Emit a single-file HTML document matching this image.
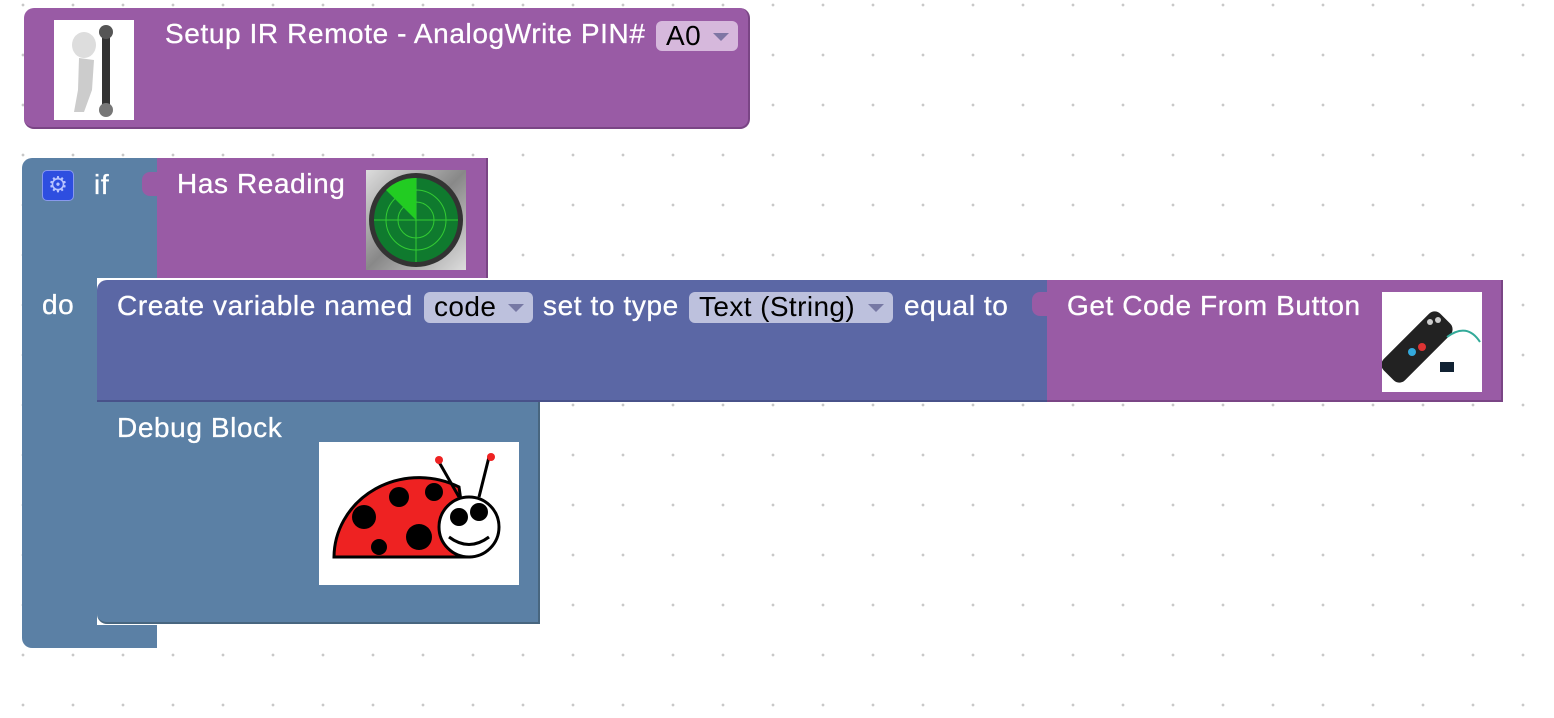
<!DOCTYPE html>
<html><head><meta charset="utf-8"><style>
html,body{margin:0;padding:0;}
body{width:1554px;height:718px;position:relative;overflow:hidden;background:#fff;font-family:"Liberation Sans",Arial,sans-serif;
background-image:radial-gradient(circle,#c8c8c8 1.2px,transparent 1.6px);background-size:50px 50px;background-position:-2px -20px;}
.a{position:absolute;box-sizing:border-box;}
.t{position:absolute;color:#fff;font-size:28px;letter-spacing:0.6px;-webkit-text-stroke:0.3px #fff;white-space:nowrap;line-height:30px;}
.dd{position:absolute;border-radius:6px;font-size:28px;letter-spacing:0.4px;line-height:30px;color:#000;padding-left:10px;box-sizing:border-box;}
.dd:after{content:"";position:absolute;right:9px;top:12px;border-left:8px solid transparent;border-right:8px solid transparent;border-top:8px solid rgba(90,90,140,0.7);}
</style></head><body>

<!-- Setup block -->
<div class="a" style="left:24px;top:8px;width:726px;height:121px;background:#995ba5;border-radius:10px;border-bottom:2px solid #7a4585;border-right:2px solid #7a4585;"></div>
<div class="a" style="left:54px;top:20px;width:80px;height:100px;background:#fff;">
<svg width="80" height="100"><ellipse cx="30" cy="25" rx="12" ry="13" fill="#ddd"/><path d="M25 38 L40 40 L38 70 L30 92 L20 92 L24 70 Z" fill="#ccc"/><rect x="48" y="12" width="8" height="78" fill="#333"/><circle cx="52" cy="12" r="7" fill="#555"/><circle cx="52" cy="90" r="7" fill="#777"/></svg></div>
<div class="t" style="left:165px;top:19px;">Setup IR Remote - AnalogWrite PIN#</div>
<div class="dd" style="left:656px;top:21px;width:82px;height:30px;background:#d6b8dc;">A0</div>

<!-- If block -->
<div class="a" style="left:22px;top:158px;width:135px;height:490px;background:#5b80a5;border-radius:10px 0 0 10px;"></div>
<div class="a" style="left:97px;top:278px;width:60px;height:347px;background:#fff;"></div>
<div class="a" style="left:42px;top:170px;width:32px;height:31px;background:#2e4ee0;border-radius:5px;border:1px solid #8899ee;color:#b8c4ff;font-size:22px;line-height:28px;text-align:center;">⚙</div>
<div class="t" style="left:94px;top:170px;">if</div>
<div class="t" style="left:42px;top:290px;">do</div>

<!-- Has Reading -->
<div class="a" style="left:157px;top:158px;width:331px;height:120px;background:#995ba5;border-right:2px solid #7a4585;"></div>
<div class="a" style="left:142px;top:172px;width:16px;height:24px;background:#995ba5;border-radius:8px 0 0 8px;"></div>
<div class="t" style="left:177px;top:169px;">Has Reading</div>
<div class="a" style="left:366px;top:170px;width:100px;height:100px;background:linear-gradient(135deg,#ddd,#888,#ddd);">
<svg width="100" height="100"><circle cx="50" cy="50" r="47" fill="#333"/><circle cx="50" cy="50" r="42" fill="#0f7a2e"/><circle cx="50" cy="50" r="30" fill="none" stroke="#3c3" stroke-width="1"/><circle cx="50" cy="50" r="18" fill="none" stroke="#3c3"/><line x1="8" y1="50" x2="92" y2="50" stroke="#3c3"/><line x1="50" y1="8" x2="50" y2="92" stroke="#3c3"/><path d="M50 50 L20 20 A42 42 0 0 1 50 8 Z" fill="#2c2"/></svg></div>

<!-- Create variable -->
<div class="a" style="left:97px;top:280px;width:951px;height:122px;background:#5b67a5;border-radius:10px 0 0 0;border-bottom:2px solid #48528a;"></div>
<div class="t" style="left:117px;top:291px;">Create variable named</div>
<div class="dd" style="left:424px;top:292px;width:109px;height:31px;background:#bdc1dd;">code</div>
<div class="t" style="left:543px;top:291px;">set to type</div>
<div class="dd" style="left:689px;top:292px;width:204px;height:31px;background:#bdc1dd;">Text (String)</div>
<div class="t" style="left:904px;top:291px;">equal to</div>

<!-- Get Code -->
<div class="a" style="left:1047px;top:280px;width:456px;height:122px;background:#995ba5;border-right:2px solid #7a4585;border-bottom:2px solid #7a4585;"></div>
<div class="a" style="left:1032px;top:292px;width:16px;height:24px;background:#995ba5;border-radius:8px 0 0 8px;"></div>
<div class="t" style="left:1067px;top:291px;">Get Code From Button</div>
<div class="a" style="left:1382px;top:292px;width:100px;height:100px;background:#fff;">
<svg width="100" height="100"><rect x="20" y="15" width="30" height="80" rx="8" fill="#222" transform="rotate(45 35 55)"/><circle cx="30" cy="60" r="4" fill="#3ad"/><circle cx="40" cy="55" r="4" fill="#d33"/><circle cx="48" cy="30" r="3" fill="#ccc"/><circle cx="56" cy="28" r="3" fill="#ccc"/><path d="M65 45 Q85 30 98 50" fill="none" stroke="#3a9" stroke-width="2"/><rect x="58" y="70" width="14" height="10" fill="#123"/></svg></div>

<!-- Debug -->
<div class="a" style="left:97px;top:402px;width:443px;height:222px;background:#5b80a5;border-right:2px solid #48667f;border-bottom:2px solid #48667f;border-radius:0 0 0 10px;"></div>
<div class="t" style="left:117px;top:413px;">Debug Block</div>
<div class="a" style="left:319px;top:442px;width:200px;height:143px;background:#fff;">
<svg width="200" height="143"><path d="M15 115 A85 80 0 0 1 140 45 L150 115 Z" fill="#e22" stroke="#000" stroke-width="3"/><circle cx="45" cy="75" r="12"/><circle cx="80" cy="55" r="10"/><circle cx="100" cy="95" r="13"/><circle cx="60" cy="105" r="8"/><circle cx="115" cy="50" r="9"/><circle cx="150" cy="85" r="30" fill="#fff" stroke="#000" stroke-width="3"/><circle cx="140" cy="75" r="9"/><circle cx="160" cy="70" r="9"/><path d="M130 95 Q150 110 170 95" fill="none" stroke="#000" stroke-width="3"/><line x1="140" y1="55" x2="120" y2="20" stroke="#000" stroke-width="3"/><line x1="160" y1="55" x2="170" y2="15" stroke="#000" stroke-width="3"/><circle cx="120" cy="18" r="4" fill="#e22"/><circle cx="172" cy="15" r="4" fill="#e22"/></svg></div>

</body></html>
